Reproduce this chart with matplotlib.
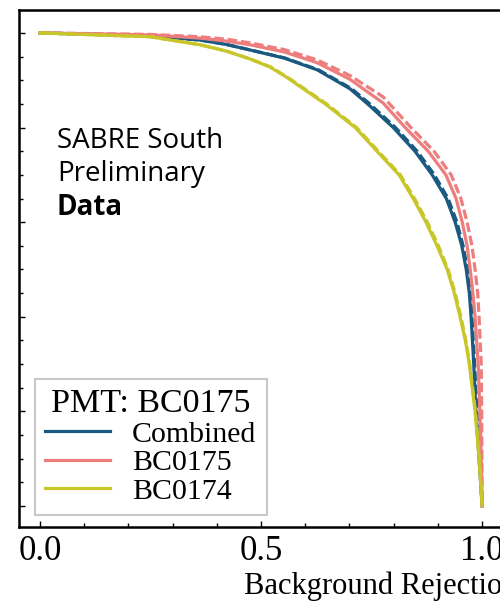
import numpy as np
import matplotlib
matplotlib.use("Agg")
import matplotlib.pyplot as plt
from matplotlib.ticker import MultipleLocator

plt.rcParams['font.family'] = 'serif'
plt.rcParams['font.serif'] = ['Liberation Serif', 'DejaVu Serif']

# background rejection (x) vs signal efficiency (y)
comb_x = [0.0, 0.249, 0.362, 0.42, 0.475, 0.552, 0.627, 0.701, 0.741, 0.799, 0.848, 0.887, 0.919, 0.939, 0.954, 0.964, 0.971, 0.975, 0.981, 0.986, 0.993, 1.0]
comb_y = [1.0, 0.994, 0.985, 0.976, 0.964, 0.947, 0.922, 0.882, 0.85, 0.80, 0.75, 0.70, 0.65, 0.60, 0.55, 0.50, 0.45, 0.40, 0.30, 0.20, 0.10, 0.0]
comb_dx = [0.0, 0.249, 0.362, 0.42, 0.476, 0.554, 0.630, 0.705, 0.746, 0.804, 0.853, 0.892, 0.923, 0.943, 0.957, 0.967, 0.973, 0.977, 0.983, 0.988, 0.994, 1.0]
comb_dy = comb_y

bc175_x = [0.0, 0.249, 0.362, 0.42, 0.475, 0.552, 0.627, 0.701, 0.776, 0.826, 0.878, 0.918, 0.941, 0.955, 0.966, 0.973, 0.979, 0.984, 0.991, 0.995, 0.998, 1.0]
bc175_y = [1.0, 0.996, 0.989, 0.983, 0.975, 0.960, 0.937, 0.902, 0.852, 0.80, 0.75, 0.70, 0.65, 0.60, 0.55, 0.50, 0.45, 0.40, 0.30, 0.20, 0.10, 0.0]
bc175_dx = [0.0, 0.249, 0.362, 0.42, 0.475, 0.552, 0.627, 0.701, 0.776, 0.839, 0.891, 0.930, 0.952, 0.966, 0.977, 0.984, 0.990, 0.993, 0.998, 0.999, 1.0]
bc175_dy = [1.0, 0.997, 0.992, 0.987, 0.979, 0.965, 0.943, 0.910, 0.865, 0.80, 0.75, 0.70, 0.65, 0.60, 0.55, 0.50, 0.45, 0.40, 0.30, 0.20, 0.0]

bc174_x = [0.0, 0.249, 0.362, 0.42, 0.475, 0.52, 0.56, 0.60, 0.645, 0.713, 0.762, 0.812, 0.844, 0.873, 0.898, 0.921, 0.937, 0.950, 0.962, 0.971, 0.984, 0.993, 1.0]
bc174_y = [1.0, 0.992, 0.975, 0.962, 0.945, 0.928, 0.905, 0.879, 0.85, 0.80, 0.75, 0.70, 0.65, 0.60, 0.55, 0.50, 0.45, 0.40, 0.35, 0.30, 0.20, 0.10, 0.0]
bc174_dx = [0.0, 0.249, 0.362, 0.421, 0.476, 0.522, 0.562, 0.603, 0.648, 0.716, 0.765, 0.815, 0.847, 0.876, 0.901, 0.923, 0.939, 0.952, 0.963, 0.972, 0.985, 0.994, 1.0]
bc174_dy = bc174_y

c_comb = '#1b5a80'
c_175 = '#ee7d7d'
c_174 = '#c8c629'

fig = plt.figure(figsize=(5.0, 6.04), dpi=100)
ax = fig.add_axes([0.038, 0.1275, 1.448, 0.856])

lw = 2.3
ax.plot(comb_x, comb_y, color=c_comb, lw=lw, label='Combined')
ax.plot(comb_dx, comb_dy, color=c_comb, lw=lw, dashes=(3, 1.2))
ax.plot(bc175_x, bc175_y, color=c_175, lw=lw, label='BC0175')
ax.plot(bc175_dx, bc175_dy, color=c_175, lw=lw, dashes=(3, 1.2))
ax.plot(bc174_x, bc174_y, color=c_174, lw=lw, label='BC0174')
ax.plot(bc174_dx, bc174_dy, color=c_174, lw=lw, dashes=(3, 1.2))

ax.set_xlim(-0.0475, 1.59)
ax.set_ylim(-0.0444, 1.0486)

ax.xaxis.set_major_locator(MultipleLocator(0.5))
ax.xaxis.set_minor_locator(MultipleLocator(0.1))
ax.yaxis.set_major_locator(MultipleLocator(0.2))
ax.yaxis.set_minor_locator(MultipleLocator(0.05))
ax.tick_params(which='both', direction='in', width=1.0, labelsize=25, pad=6)
ax.tick_params(which='major', length=4.5)
ax.tick_params(which='minor', length=3)
ax.tick_params(axis='y', labelleft=False)
for s in ax.spines.values():
    s.set_linewidth(1.8)

ax.set_xlabel('Background Rejection', fontsize=22, labelpad=2)

sf = 'Open Sans'
ax.text(0.038, 0.757, 'SABRE South', fontsize=20, family=sf, va='baseline')
ax.text(0.038, 0.687, 'Preliminary', fontsize=20, family=sf, va='baseline')
ax.text(0.038, 0.615, 'Data', fontsize=20, family=sf, weight='bold', va='baseline')

leg = ax.legend(title='PMT: BC0175', fontsize=21.5, title_fontsize=24.5,
                loc='lower left', bbox_to_anchor=(0.022, 0.023), borderaxespad=0,
                handlelength=2.15, handletextpad=0.75, labelspacing=0.05,
                borderpad=0.35, fancybox=False, framealpha=1)
leg.get_frame().set_edgecolor('#c8c8c8')
leg.get_frame().set_linewidth(1.5)

fig.savefig('out.png', dpi=100)
